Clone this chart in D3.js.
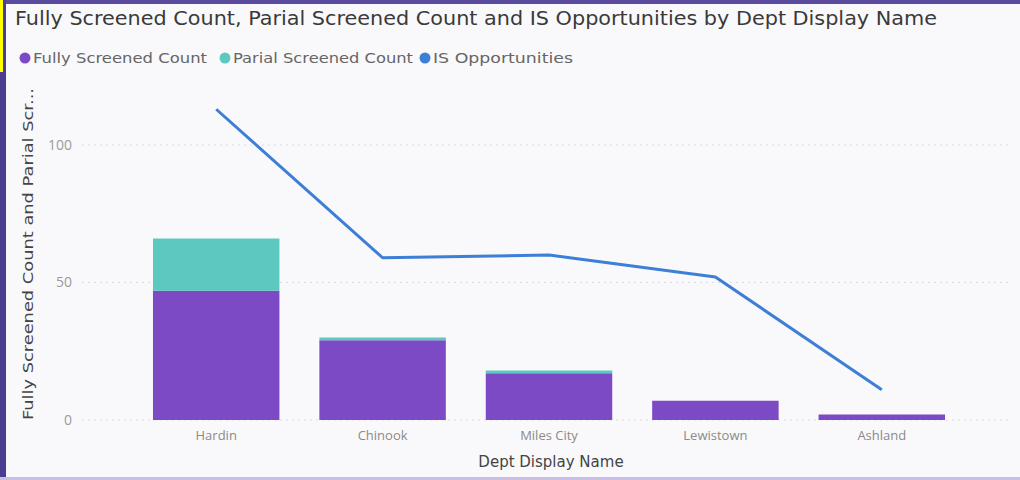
<!DOCTYPE html>
<html>
<head>
<meta charset="utf-8">
<script src="https://cdn.jsdelivr.net/npm/d3@7"></script>
<style>
  body { margin: 0; background: #f9f9fb; }
  text { font-family: "DejaVu Sans", "Noto Sans", sans-serif; }
</style>
</head>
<body>
<script>
// values
var depts = ["Hardin", "Chinook", "Miles City", "Lewistown", "Ashland"];
var fullyScreened = [47, 29, 17, 7, 2];
var partialScreened = [19, 1, 1, 0, 0];
var isOpportunities = [113, 59, 60, 52, 11];
var yTicks = [0, 50, 100];

var seriesNames = ["Fully Screened Count", "Parial Screened Count", "IS Opportunities"];
var colors = ["#7d4ac5", "#5dc8c0", "#3d7fd6"];

var width = 1020, height = 480;

var svg = d3.select("body").append("svg")
    .attr("width", width)
    .attr("height", height);

svg.append("rect").attr("width", width).attr("height", height).attr("fill", "#f9f9fb");

var x = d3.scaleBand()
    .domain(depts)
    .range([133, 965])
    .paddingInner(0.24)
    .paddingOuter(0.12);

var y = d3.scaleLinear()
    .domain([0, 120])
    .range([420, 90]);

// gridlines + tick labels
var yAxis = d3.axisLeft(y).tickValues(yTicks).tickSize(0).tickPadding(0);
var gy = svg.append("g").attr("transform", "translate(72,0)").call(yAxis);
gy.select(".domain").remove();
gy.selectAll("text").attr("fill", "#9a9a9a").style("font-size", "14px")
    .style("font-family", "'Open Sans', sans-serif");

svg.append("g").selectAll("line")
    .data(yTicks)
    .enter().append("line")
    .attr("x1", 82).attr("x2", 1008)
    .attr("y1", d => y(d)).attr("y2", d => y(d))
    .attr("stroke", "#dcdce0")
    .attr("stroke-width", 1)
    .attr("stroke-dasharray", "2,4");

// stacked bars
var rows = depts.map((d, i) => ({ dept: d, full: fullyScreened[i], partial: partialScreened[i] }));
var stack = d3.stack().keys(["full", "partial"])(rows);

svg.append("g").selectAll("g")
    .data(stack)
    .enter().append("g")
    .attr("fill", (d, i) => colors[i])
    .selectAll("rect")
    .data(d => d)
    .enter().append("rect")
    .attr("x", d => x(d.data.dept))
    .attr("width", x.bandwidth())
    .attr("y", d => y(d[1]))
    .attr("height", d => y(d[0]) - y(d[1]));

// line
var line = d3.line()
    .x((d, i) => x(depts[i]) + x.bandwidth() / 2)
    .y(d => y(d));

svg.append("path")
    .datum(isOpportunities)
    .attr("fill", "none")
    .attr("stroke", colors[2])
    .attr("stroke-width", 3)
    .attr("stroke-linejoin", "round")
    .attr("d", line);

// x axis labels
var xAxis = d3.axisBottom(x).tickSize(0).tickPadding(0);
var gx = svg.append("g").attr("transform", "translate(0,431)").call(xAxis);
gx.select(".domain").remove();
gx.selectAll("text").attr("fill", "#8a8a8a").style("font-size", "13px")
    .style("font-family", "'Open Sans', sans-serif");

svg.append("text")
    .attr("x", 551).attr("y", 467)
    .attr("text-anchor", "middle")
    .attr("fill", "#444")
    .style("font-size", "15px")
    .text("Dept Display Name");

svg.append("text")
    .attr("transform", "translate(33,254) rotate(-90)")
    .attr("text-anchor", "middle")
    .attr("fill", "#444")
    .style("font-size", "14px")
    .attr("textLength", 332)
    .attr("lengthAdjust", "spacingAndGlyphs")
    .text("Fully Screened Count and Parial Scr...");

// title
svg.append("text")
    .attr("x", 15).attr("y", 25)
    .attr("fill", "#3a3a3a")
    .style("font-size", "19px")
    .attr("textLength", 922)
    .attr("lengthAdjust", "spacingAndGlyphs")
    .text("Fully Screened Count, Parial Screened Count and IS Opportunities by Dept Display Name");

// legend
var legendX = [25, 225, 425];
var legendW = [174, 180, 140];
var lg = svg.append("g").selectAll("g")
    .data(seriesNames)
    .enter().append("g")
    .attr("transform", (d, i) => "translate(" + legendX[i] + ",58)");
lg.append("circle").attr("r", 5.5).attr("fill", (d, i) => colors[i]);
lg.append("text")
    .attr("x", 8).attr("y", 5)
    .attr("fill", "#666")
    .style("font-size", "14px")
    .attr("textLength", (d, i) => legendW[i])
    .attr("lengthAdjust", "spacingAndGlyphs")
    .text(d => d);

// frame
svg.append("rect").attr("x", 0).attr("y", 0).attr("width", width).attr("height", 4).attr("fill", "#5a4a9e");
svg.append("rect").attr("x", 0).attr("y", 0).attr("width", 6).attr("height", height).attr("fill", "#4a3f8f");
svg.append("rect").attr("x", 0).attr("y", 0).attr("width", 3).attr("height", 72).attr("fill", "#ffff00");
svg.append("rect").attr("x", 0).attr("y", 477).attr("width", width).attr("height", 3).attr("fill", "#c9bfe6");
</script>
</body>
</html>
